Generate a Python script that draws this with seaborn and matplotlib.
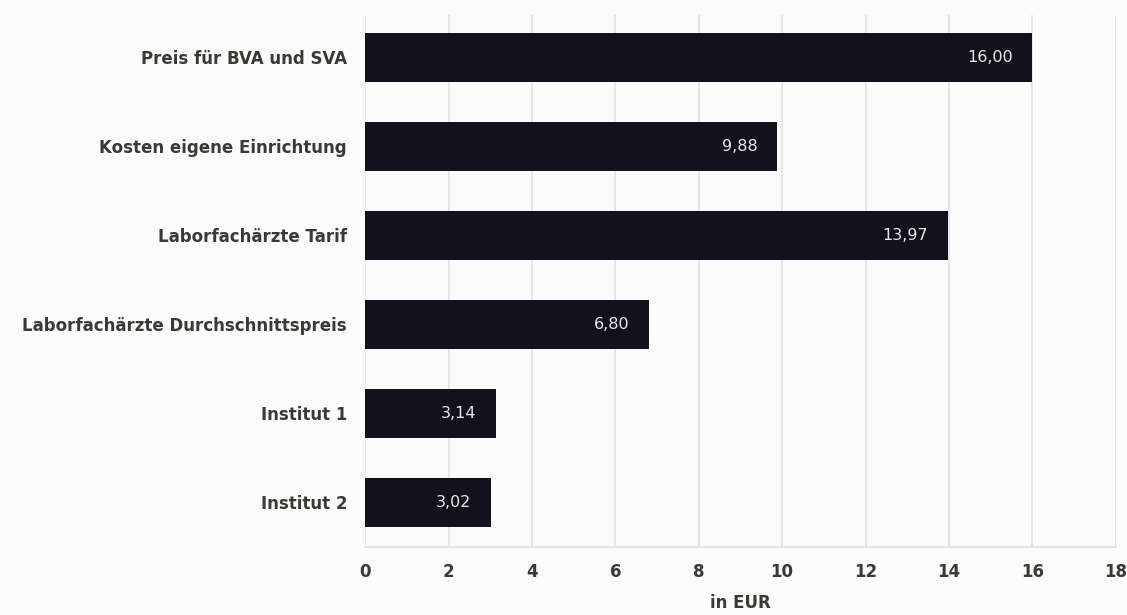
import matplotlib
matplotlib.use("Agg")
import matplotlib.pyplot as plt
import seaborn as sns
import pandas as pd

# Daten
kategorien = ["Preis für BVA und SVA", "Kosten eigene Einrichtung", "Laborfachärzte Tarif",
              "Laborfachärzte Durchschnittspreis", "Institut 1", "Institut 2"]
werte = [16.00, 9.88, 13.97, 6.80, 3.14, 3.02]
x_ticks = [0, 2, 4, 6, 8, 10, 12, 14, 16, 18]

df = pd.DataFrame({"kategorie": kategorien, "wert": werte})

sns.set_theme(style="white")
plt.rcParams['font.family'] = ['DejaVu Sans']
textfarbe = "#3a3a34"

fig = plt.figure(figsize=(11.27, 6.15), dpi=100, facecolor="#fbfbfb")
ax = fig.add_axes([0.324, 0.111, 0.666, 0.865])
ax.set_facecolor("#fbfbfb")

sns.barplot(data=df, x="wert", y="kategorie", orient="h", color="#13121c",
            width=0.55, saturation=1, ax=ax, zorder=3, linewidth=0)

ax.set_xlim(0, 18)
ax.set_ylim(5.5, -0.48)
ax.set_xticks(x_ticks)
ax.xaxis.grid(True, color="#e2e2e2", linewidth=1.2, zorder=0)
ax.set_axisbelow(True)

for s in ["top", "right", "left"]:
    ax.spines[s].set_visible(False)
ax.spines["bottom"].set_color("#e2e2e2")

ax.tick_params(axis="both", length=0, colors=textfarbe)
ax.tick_params(axis="x", pad=12)
ax.tick_params(axis="y", pad=13)
for lbl in ax.get_xticklabels() + ax.get_yticklabels():
    lbl.set_fontweight("bold")
    lbl.set_fontsize(12)
    lbl.set_color(textfarbe)

ax.set_ylabel("")
ax.set_xlabel("in EUR", fontsize=12, fontweight="bold", color=textfarbe, labelpad=9)

for c in ax.containers:
    beschriftung = ax.bar_label(c, labels=[f"{v:.2f}".replace(".", ",") for v in werte],
                                padding=-14, color="#e8e8e8", fontsize=11.5)
    for t in beschriftung:
        t.set_ha("right")

fig.savefig("out.png", dpi=100, facecolor=fig.get_facecolor())
